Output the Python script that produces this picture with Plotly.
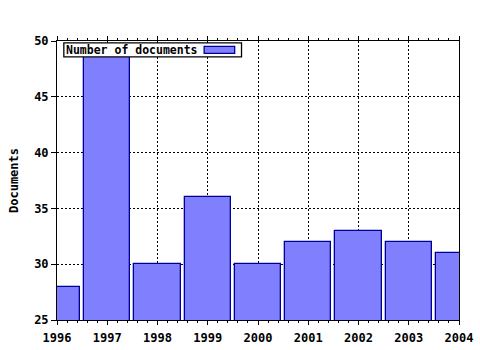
import plotly.graph_objects as go

years = [1996, 1997, 1998, 1999, 2000, 2001, 2002, 2003, 2004]
documents = [28, 49, 30, 36, 30, 32, 33, 32, 31]
y_ticks = [25, 30, 35, 40, 45, 50]
series_name = "Number of documents"

FONT = "DejaVu Sans Mono"
fill = "#8080ff"
edge = "#000099"

fig = go.Figure()
fig.add_trace(go.Bar(
    x=years, y=documents, width=0.92, name=series_name,
    marker=dict(color=fill, line=dict(color=edge, width=1.3)),
    showlegend=False,
))

fig.update_layout(
    width=480, height=350,
    margin=dict(l=57, r=21, t=41, b=30, autoexpand=False),
    paper_bgcolor="white", plot_bgcolor="white",
    font=dict(family=FONT, size=12, color="black"),
    bargap=0,
    xaxis=dict(
        range=[1996, 2004], tickvals=years, ticktext=[f"<b>{y}</b>" for y in years],
        showline=True, linecolor="black", linewidth=1, mirror="ticks",
        ticks="outside", ticklen=4, tickcolor="black", automargin=False,
        ticklabelstandoff=3,
        minor=dict(dtick=0.2, ticks="outside", ticklen=2, tickcolor="black", showgrid=False),
        showgrid=True, gridcolor="black", griddash="2px,2px", gridwidth=1,
        zeroline=False, tickfont=dict(family=FONT, size=12),
    ),
    yaxis=dict(
        range=[25, 50], tickvals=y_ticks, ticktext=[f"<b>{v}</b>" for v in y_ticks],
        showline=True, linecolor="black", linewidth=1, mirror=True,
        ticks="outside", ticklen=5, tickcolor="black", automargin=False,
        showgrid=True, gridcolor="black", griddash="2px,2px", gridwidth=1,
        zeroline=False, tickfont=dict(family=FONT, size=12),
        title=dict(text="<b>Documents</b>", font=dict(family=FONT, size=12), standoff=12),
    ),
)

# custom legend box (text followed by swatch), in paper coordinates
fig.add_shape(type="rect", xref="paper", yref="paper",
              x0=0.017, x1=0.459, y0=0.943, y1=0.993,
              line=dict(color="black", width=1.3), fillcolor="white", layer="above")
fig.add_annotation(xref="paper", yref="paper", x=0.018, y=0.969, xanchor="left", yanchor="middle",
                   text=f"<b>{series_name}</b>", showarrow=False,
                   font=dict(family=FONT, size=11.5, color="black"))
fig.add_shape(type="rect", xref="paper", yref="paper",
              x0=0.366, x1=0.442, y0=0.956, y1=0.981,
              line=dict(color=edge, width=1.3), fillcolor=fill, layer="above")

fig.write_html("out.html")
